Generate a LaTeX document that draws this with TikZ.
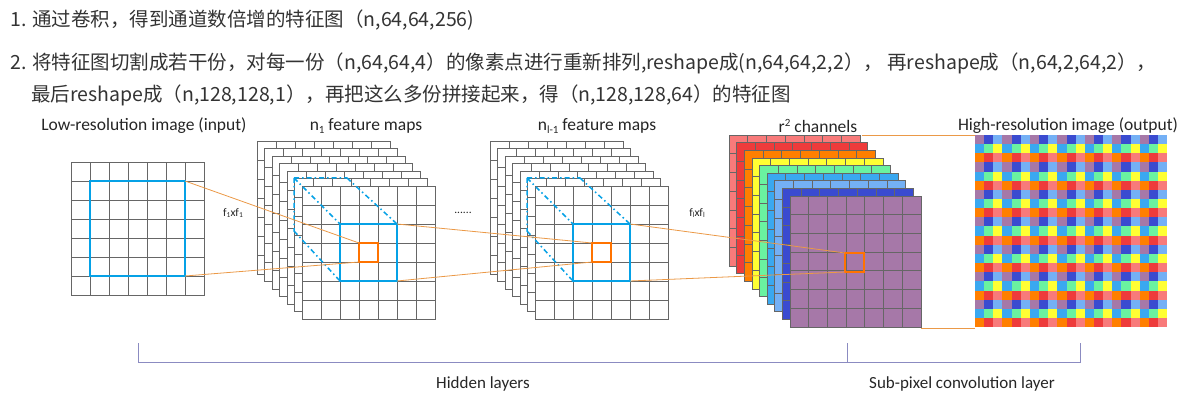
\documentclass[tikz,border=0pt]{standalone}
\usepackage{fontspec}
\newfontfamily\cjk{Noto Sans CJK SC}
\newfontfamily\lab{Carlito}
\newcommand\mysub[1]{\raisebox{-0.3ex}{\fontsize{11}{12}\selectfont #1}}
\newcommand\mysubs[1]{\raisebox{-0.3ex}{\fontsize{7.5}{8}\selectfont #1}}
\begin{document}
\begin{tikzpicture}[x=1pt,y=-1pt,
  hdr/.style={anchor=west,inner sep=0,text=black!80,font=\cjk\fontsize{19.5}{22}\selectfont},
  lbl/.style={inner sep=0,text=black!85,font=\lab\fontsize{17.5}{20}\selectfont},
  gl/.style={draw=black!60,line width=0.6},
  bsq/.style={draw=cyan!90!blue,line width=1.8},
  osq/.style={draw=orange!90!red,line width=1.4},
  oline/.style={draw=orange!60!brown!80,line width=0.8},
  bra/.style={draw=blue!30!gray!70,line width=0.8}]
\useasboundingbox (0,0) rectangle (1195,401);
\definecolor{cpink}{HTML}{F87A7A}\definecolor{cred}{HTML}{EE3B3B}\definecolor{corange}{HTML}{FF7F00}
\definecolor{cyellow}{HTML}{FFFF33}\definecolor{cgreen}{HTML}{6AF2A0}\definecolor{csky}{HTML}{3AA8F0}
\definecolor{clblue}{HTML}{74B0F5}\definecolor{cdblue}{HTML}{3A4BD0}\definecolor{cpurple}{HTML}{A678A8}
% header
\node[hdr] (h1) at (10,20) {1. 通过卷积，得到通道数倍增的特征图（n,64,64,256)};
\node[hdr] (h2) at (10,63) {2. 将特征图切割成若干份，对每一份（n,64,64,4）的像素点进行重新排列,reshape成(n,64,64,2,2）， 再reshape成（n,64,2,64,2），};
\node[hdr] (h3) at (31,95) {最后reshape成（n,128,128,1），再把这么多份拼接起来，得（n,128,128,64）的特征图};
% labels
\node[lbl] (t1) at (144,126) {Low-resolution image (input)};
\node[lbl] (t2) at (366,126) {n\mysub{1} feature maps};
\node[lbl] (t3) at (597,126) {n\mysub{l-1} feature maps};
\node[lbl] (t4) at (818,126) {r\raisebox{0.8ex}{\fontsize{11}{12}\selectfont 2} channels};
\node[lbl] (t5) at (1068,126) {High-resolution image (output)};
\node[lbl,font=\lab\fontsize{11.5}{12}\selectfont] (f1) at (233,213) {f\mysubs{1}xf\mysubs{1}};
\node[lbl,font=\lab\fontsize{11.5}{12}\selectfont] (f2) at (697,213) {f\mysubs{l}xf\mysubs{l}};
\node[lbl,font=\lab\fontsize{11.5}{12}\selectfont] (dots) at (463,213) {......};
% input grid
\begin{scope}[shift={(71,162)}]
\draw[gl,step=19pt] (0,0) grid (133,133);
\draw[gl] (0,0) rectangle (133,133);
\draw[bsq] (19,19) rectangle (114,114);
\coordinate (ia) at (114,19); \coordinate (ib) at (114,114);
\end{scope}
% feature stacks
\foreach \sx/\nm in {0/A,233/B}{
 \foreach \i in {0,...,6}{
  \begin{scope}[shift={(257+\sx+7.5*\i,141+7.5*\i)}]
  \fill[white] (0,0) rectangle (133,133);
  \draw[gl,step=19pt] (0,0) grid (133,133);
  \draw[gl] (0,0) rectangle (133,133);
  \end{scope}}
 \begin{scope}[shift={(302+\sx,186)}]
 \draw[bsq,dash pattern=on 5pt off 3pt on 1.5pt off 3pt,line width=1.5] (-8,-8) -- (-8,45) (-8,-8) -- (45,-8)
   (-8,-8) -- (38,38) (45,-8) -- (95,38) (-8,45) -- (38,95);
 \draw[bsq] (38,38) rectangle (95,95);
 \draw[osq] (57,57) rectangle (76,76);
 \coordinate (\nm oa) at (57,57); \coordinate (\nm ob) at (57,76);
 \coordinate (\nm ba) at (95,38); \coordinate (\nm bb) at (95,95);
 \end{scope}}
% colour stack
\foreach \c [count=\i from 0] in {cpink,cred,corange,cyellow,cgreen,csky,clblue,cdblue,cpurple}{
 \begin{scope}[shift={(729+7.6*\i,135+7.6*\i)}]
 \fill[\c] (0,0) rectangle (131,131);
 \draw[draw=black!60,line width=0.5,step=18.714pt] (0,0) grid (131,131);
 \draw[draw=black!60,line width=0.5] (0,0) rectangle (131,131);
 \end{scope}}
\coordinate (ct) at (862,135); \coordinate (cb) at (921,328);
\coordinate (Coa) at (845,253); \coordinate (Cob) at (845,272);
\draw[osq] (845,253) rectangle (864,272);
% output
\coordinate (ot) at (975,135); \coordinate (ob) at (975,328);
\foreach \r in {0,...,20}{\foreach \cc in {0,...,20}{
  \pgfmathtruncatemacro\k{3*mod(\r,3)+mod(\cc,3)}
  \ifcase\k \def\col{cpurple}\or\def\col{cdblue}\or\def\col{clblue}\or\def\col{csky}\or\def\col{cgreen}\or\def\col{cyellow}\or\def\col{corange}\or\def\col{cred}\or\def\col{cpink}\fi
  \fill[\col] (975+9.15*\cc,135+9.15*\r) rectangle +(9.15,9.15);}}
% connectors
\draw[oline] (ia) -- (Aoa); \draw[oline] (ib) -- (Aob);
\draw[oline] (Aba) -- (Boa); \draw[oline] (Abb) -- (Bob);
\draw[oline] (Bba) -- (Coa); \draw[oline] (Bbb) -- (Cob);
\draw[oline] (ct) -- (ot); \draw[oline] (cb) -- (ob);
% bracket
\draw[bra] (138,343) -- (138,362) -- (1080,362) -- (1080,343);
\draw[bra] (847,343) -- (847,362);
\node[lbl,font=\lab\fontsize{17}{18}\selectfont] (hl) at (483,384) {Hidden layers};
\node[lbl,font=\lab\fontsize{17}{18}\selectfont] (sp) at (962,384) {Sub-pixel convolution layer};
\end{tikzpicture}
\end{document}
